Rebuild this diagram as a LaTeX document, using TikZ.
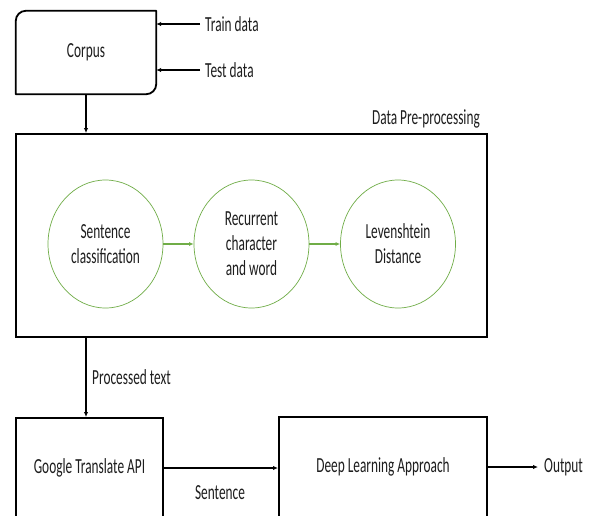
\documentclass[tikz,border=0pt]{standalone}
\usepackage{fontspec}
\setmainfont[FakeStretch=0.62]{Carlito}
\usetikzlibrary{arrows.meta,shapes.geometric}
\definecolor{ink}{RGB}{30,30,30}
\definecolor{leaf}{RGB}{112,173,71}
\tikzset{
  txt/.style={font=\fontsize{21.5}{25}\selectfont, text=ink},
  blockbox/.style={draw=black, line width=2pt, inner sep=0pt, txt},
  stage/.style={ellipse, draw=leaf, line width=0.7pt, minimum width=115pt,
    minimum height=128pt, inner sep=0pt, align=center, txt},
  label/.style={inner sep=0pt, txt},
  arr/.style={draw=black, line width=1.3pt, -{Latex[length=5pt,width=4.5pt]}},
  garr/.style={draw=leaf, line width=1.4pt, -{Latex[length=4.5pt,width=4pt]}}
}
\begin{document}
\begin{tikzpicture}[x=1pt,y=-1pt]
\path[use as bounding box, clip] (0,0) rectangle (595,515);
\fill[white] (0,0) rectangle (595,515);

% corpus store, rounded at top-left and bottom-right
\node[label, minimum width=140pt, minimum height=83pt] (corpus) at (86,52.5) {Corpus};
\draw[line width=1.8pt, line join=round]
  (corpus.north east) -- ([xshift=10pt]corpus.north west)
  arc[start angle=270, end angle=180, radius=10]
  -- (corpus.south west) -- ([xshift=-10pt]corpus.south east)
  arc[start angle=90, end angle=0, radius=10]
  -- cycle;

\node[label, anchor=west] (train) at (205,24) {Train data};
\node[label, anchor=west] (test) at (205,70) {Test data};
\draw[arr] ([xshift=-5pt]train.west) -- (corpus.east |- train.west);
\draw[arr] ([xshift=-5pt]test.west) -- (corpus.east |- test.west);

% pre-processing block
\node[blockbox, minimum width=471pt, minimum height=203pt] (pre) at (251.5,235.5) {};
\node[label, anchor=east] (prelabel) at (480,119) {Data Pre-processing};
\draw[arr] (corpus.south) -- (corpus.south |- pre.north);

\node[stage] (s1) at (105.5,244) {Sentence\\classification};
\node[stage] (s2) at (251.5,244) {Recurrent\\character\\and word};
\node[stage] (s3) at (398,244) {Levenshtein\\Distance};
\draw[garr] (s1) -- (s2);
\draw[garr] (s2) -- (s3);

% translation and learning stages
\node[blockbox, minimum width=147pt, minimum height=100pt] (google) at (89.5,468) {Google Translate API};
\node[blockbox, minimum width=208pt, minimum height=100pt] (deep) at (383,467) {Deep Learning Approach};
\node[label, anchor=west] (proc) at (92,377) {Processed text};
\draw[arr] (corpus.south |- pre.south) -- (corpus.south |- google.north);

\node[label] (sent) at (220,493) {Sentence};
\draw[arr] (google.east) -- (deep.west |- google.east);

\node[label, anchor=west] (out) at (544,467) {Output};
\draw[arr] (deep.east) -- ([xshift=-6pt]out.west);
\end{tikzpicture}
\end{document}
